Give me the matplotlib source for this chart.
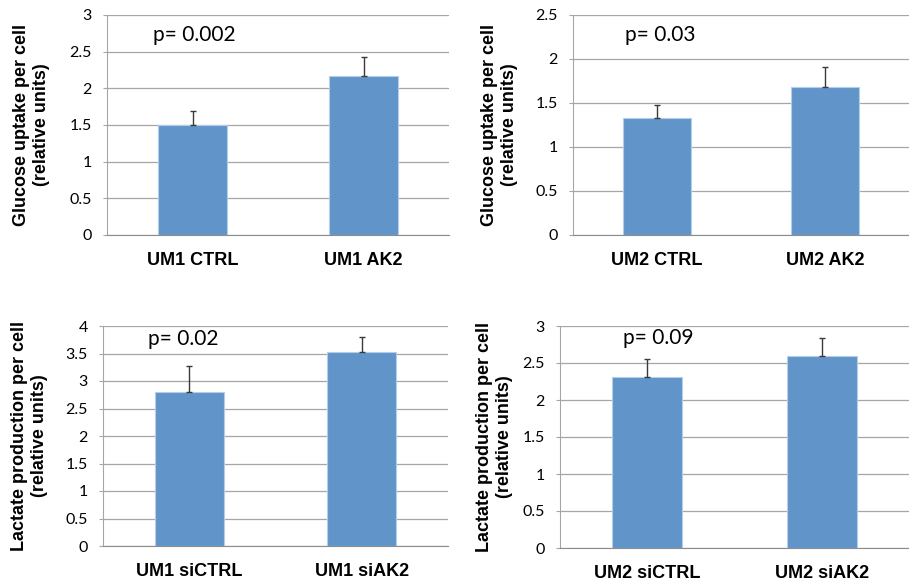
import matplotlib
matplotlib.use("Agg")
import matplotlib.pyplot as plt

# values
glucose_um1_labels = ["UM1 CTRL", "UM1 AK2"]
glucose_um1 = [1.50, 2.17]
glucose_um1_err = [0.19, 0.26]

glucose_um2_labels = ["UM2 CTRL", "UM2 AK2"]
glucose_um2 = [1.33, 1.68]
glucose_um2_err = [0.15, 0.23]

lactate_um1_labels = ["UM1 siCTRL", "UM1 siAK2"]
lactate_um1 = [2.80, 3.52]
lactate_um1_err = [0.48, 0.28]

lactate_um2_labels = ["UM2 siCTRL", "UM2 siAK2"]
lactate_um2 = [2.31, 2.60]
lactate_um2_err = [0.25, 0.24]

glucose_ylabel = "Glucose uptake per cell\n(relative units)"
lactate_ylabel = "Lactate production per cell\n(relative units)"

W, H = 909, 582
fig = plt.figure(figsize=(W / 100, H / 100), dpi=100)

BAR = "#6195C9"
GRID = "#A6A6A6"
NUM_FONT = "Lato"
LAB_FONT = "Liberation Sans"


def panel(box, labels, vals, errs, ymax, yticks, ylabel, ptext, ppos, lab_x):
    l, t, w, h = box
    ax = fig.add_axes([l / W, (H - t - h) / H, w / W, h / H])
    x = range(len(vals))
    ax.bar(x, vals, width=0.4, color=BAR, edgecolor="#B5CDE8", linewidth=0.8, zorder=3)
    ax.errorbar(x, vals, yerr=[[0] * len(errs), errs], fmt="none",
                ecolor="#3A3A3A", elinewidth=1.0, capsize=2.5, capthick=1.0, zorder=4)
    ax.set_xlim(-0.5, 1.5)
    ax.set_ylim(0, ymax)
    ax.set_yticks(yticks)
    ax.set_yticklabels([("%g" % v) for v in yticks], fontfamily=NUM_FONT, fontsize=11.5)
    ax.set_xticks(list(x))
    ax.set_xticklabels(labels, fontfamily=LAB_FONT, fontweight="bold", fontsize=13)
    ax.tick_params(axis="x", length=0, pad=12)
    ax.tick_params(axis="y", length=3, color=GRID, pad=8)
    ax.grid(axis="y", color=GRID, linewidth=0.9, zorder=0)
    for s in ["top", "right"]:
        ax.spines[s].set_visible(False)
    ax.spines["left"].set_color(GRID)
    ax.spines["bottom"].set_color("#8C8C8C")
    ax.set_ylabel(ylabel, fontfamily=LAB_FONT, fontweight="bold", fontsize=13,
                  linespacing=1.2)
    ax.yaxis.set_label_coords(lab_x, 0.5)
    ax.text(ppos[0], ppos[1], ptext, fontfamily=NUM_FONT, fontsize=15,
            va="center", ha="left")
    return ax


panel((107, 15, 342, 220), glucose_um1_labels, glucose_um1, glucose_um1_err,
      3, [0, 0.5, 1, 1.5, 2, 2.5, 3], glucose_ylabel, "p= 0.002", (-0.23, 2.73), -0.167)
panel((573, 15, 336, 220), glucose_um2_labels, glucose_um2, glucose_um2_err,
      2.5, [0, 0.5, 1, 1.5, 2, 2.5], glucose_ylabel, "p= 0.03", (-0.19, 2.27), -0.164)
panel((103, 326, 345, 220), lactate_um1_labels, lactate_um1, lactate_um1_err,
      4, [0, 0.5, 1, 1.5, 2, 2.5, 3, 3.5, 4], lactate_ylabel, "p= 0.02", (-0.24, 3.76), -0.16)
panel((560, 326, 349, 222), lactate_um2_labels, lactate_um2, lactate_um2_err,
      3, [0, 0.5, 1, 1.5, 2, 2.5, 3], lactate_ylabel, "p= 0.09", (-0.14, 2.84), -0.135)

fig.savefig("out.png", dpi=100)
